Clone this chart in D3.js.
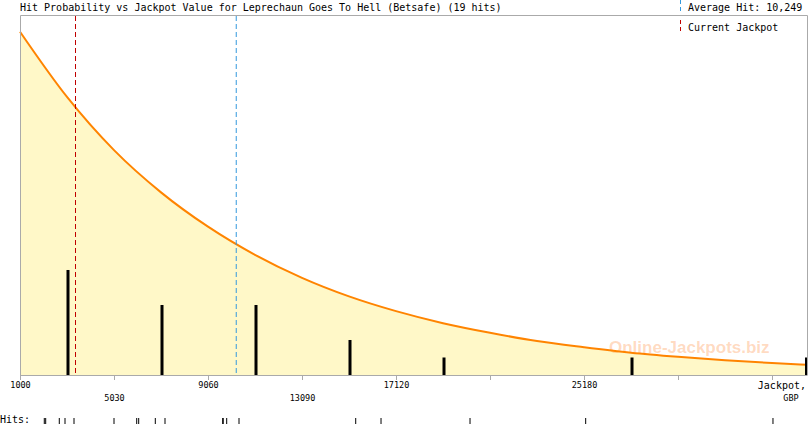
<!DOCTYPE html>
<html>
<meta charset="utf-8">
<style>
    body { margin: 0; background: #fff; }
    svg { display: block; }
    text { font-family: "DejaVu Sans Mono", "Liberation Mono", monospace; fill: #000; }
    .small { font-size: 8.5px; }
    .mark { font-family: "Liberation Sans", Arial, sans-serif; font-weight: bold; font-size: 17px; fill: rgba(255,140,60,0.33); }
</style>
<body>
<script src="https://cdn.jsdelivr.net/npm/d3@7"></script>
<script>
var hits = [2020, 2080, 2663, 2908, 3294, 5009, 5982, 6067, 6779, 7195,
            9669, 9690, 9840, 10368, 15371, 16456, 20272, 25230, 33260];
var avgHit = 10249;
var currentJackpot = 3358;

// hit probability curve (relative), read at each axis tick and at the right edge
var curveX = [1000, 3015, 5030, 7045, 9060, 11075, 13090, 15105, 17120, 19135,
              21150, 23165, 25180, 27195, 29210, 31225, 33240, 34740];
var curveP = [1.00, 0.81, 0.655, 0.532, 0.432, 0.35, 0.283, 0.229, 0.186, 0.151,
              0.123, 0.099, 0.081, 0.065, 0.053, 0.043, 0.035, 0.030];

var tickVals = [1000, 5030, 9060, 13090, 17120, 21150, 25180, 29210, 33240];
var tickLabels = ["1000", "5030", "9060", "13090", "17120", "", "25180", "", ""];
var binStep = 4030;

var W = 810, H = 425;
var pLeft = 20, pRight = 807, pTop = 15, pBottom = 375;

var svg = d3.select("body").append("svg").attr("width", W).attr("height", H);

var x = d3.scaleLinear().domain([1000, 34740]).range([pLeft, pRight]);
var yP = d3.scaleLinear().domain([0, 1.0487]).range([pBottom, pTop]);
var yN = d3.scaleLinear().domain([0, 20.57]).range([pBottom, pTop]);

var pts = curveX.map(function(v, i) { return [v, curveP[i]]; });

// fill under curve
svg.append("path")
    .datum(pts)
    .attr("fill", "#fff8c8")
    .attr("d", d3.area().x(function(d) { return x(d[0]); }).y0(pBottom).y1(function(d) { return yP(d[1]); }).curve(d3.curveMonotoneX));

// watermark
svg.append("text").attr("class", "mark").attr("x", 609).attr("y", 353).text("Online-Jackpots.biz");

// probability curve
svg.append("path")
    .datum(pts)
    .attr("fill", "none")
    .attr("stroke", "#ff8400")
    .attr("stroke-width", 2)
    .attr("d", d3.line().x(function(d) { return x(d[0]); }).y(function(d) { return yP(d[1]); }).curve(d3.curveMonotoneX));

// histogram of hits
var bins = d3.bin().domain([1000, 1000 + binStep * 9]).thresholds(d3.range(1000, 1000 + binStep * 9, binStep))(hits);
svg.selectAll("rect.bar")
    .data(bins.filter(function(b) { return b.length > 0; }))
    .enter().append("rect")
    .attr("class", "bar")
    .attr("x", function(b) { return Math.min(x((b.x0 + b.x1) / 2) - 0.5, pRight - 2); })
    .attr("width", 3)
    .attr("y", function(b) { return yN(b.length); })
    .attr("height", function(b) { return pBottom - yN(b.length); })
    .attr("fill", "#000");

// current jackpot & average lines
svg.append("line")
    .attr("x1", x(currentJackpot) + 0.5).attr("x2", x(currentJackpot) + 0.5)
    .attr("y1", pTop + 1).attr("y2", pBottom)
    .attr("stroke", "#c00000").attr("stroke-dasharray", "5,3");
svg.append("line")
    .attr("x1", x(avgHit) + 0.5).attr("x2", x(avgHit) + 0.5)
    .attr("y1", pTop + 1).attr("y2", pBottom)
    .attr("stroke", "#3399dd").attr("stroke-dasharray", "5,3");

// frame
svg.append("path")
    .attr("d", "M" + (pLeft + 0.5) + "," + pBottom + "V" + (pTop + 0.5) + "H" + (pRight + 0.5) + "V" + pBottom)
    .attr("fill", "none").attr("stroke", "#aaa");

// x axis
var axis = svg.append("g")
    .attr("transform", "translate(0," + pBottom + ")")
    .call(d3.axisBottom(x).tickValues(tickVals).tickSize(5).tickSizeOuter(0)
        .tickFormat(function(d, i) { return tickLabels[i]; }));
axis.select(".domain").attr("stroke", "#aaa");
axis.selectAll(".tick line").attr("stroke", "#aaa");
axis.selectAll(".tick text")
    .attr("class", "small")
    .attr("font-family", null).attr("font-size", null)
    .attr("fill", "#000")
    .attr("y", function(d, i) { return i % 2 ? 20 : 7; })
    .attr("dy", "0.71em");

svg.append("text").attr("x", 806).attr("y", 389).attr("text-anchor", "end").style("font-size", "10px").text("Jackpot,");
svg.append("text").attr("class", "small").attr("x", 791).attr("y", 401).attr("text-anchor", "middle").text("GBP");

// title and legend
svg.append("text").attr("x", 20).attr("y", 11).style("font-size", "10px")
    .text("Hit Probability vs Jackpot Value for Leprechaun Goes To Hell (Betsafe) (" + hits.length + " hits)");
svg.append("line").attr("x1", 680.5).attr("x2", 680.5).attr("y1", 0).attr("y2", 11)
    .attr("stroke", "#3399dd").attr("stroke-dasharray", "4,3");
svg.append("text").attr("x", 688).attr("y", 11).style("font-size", "10px")
    .text("Average Hit: " + d3.format(",")(avgHit));
svg.append("line").attr("x1", 680.5).attr("x2", 680.5).attr("y1", 20).attr("y2", 32)
    .attr("stroke", "#c00000").attr("stroke-dasharray", "4,3");
svg.append("text").attr("x", 688).attr("y", 31).style("font-size", "10px").text("Current Jackpot");

// hits strip
svg.append("text").attr("x", 0).attr("y", 423).style("font-size", "10px").text("Hits:");
svg.selectAll("line.hit")
    .data(hits)
    .enter().append("line")
    .attr("class", "hit")
    .attr("x1", function(d) { return x(d) + 0.5; }).attr("x2", function(d) { return x(d) + 0.5; })
    .attr("y1", 418).attr("y2", 424)
    .attr("stroke", "#000");
</script>
</body>
</html>
